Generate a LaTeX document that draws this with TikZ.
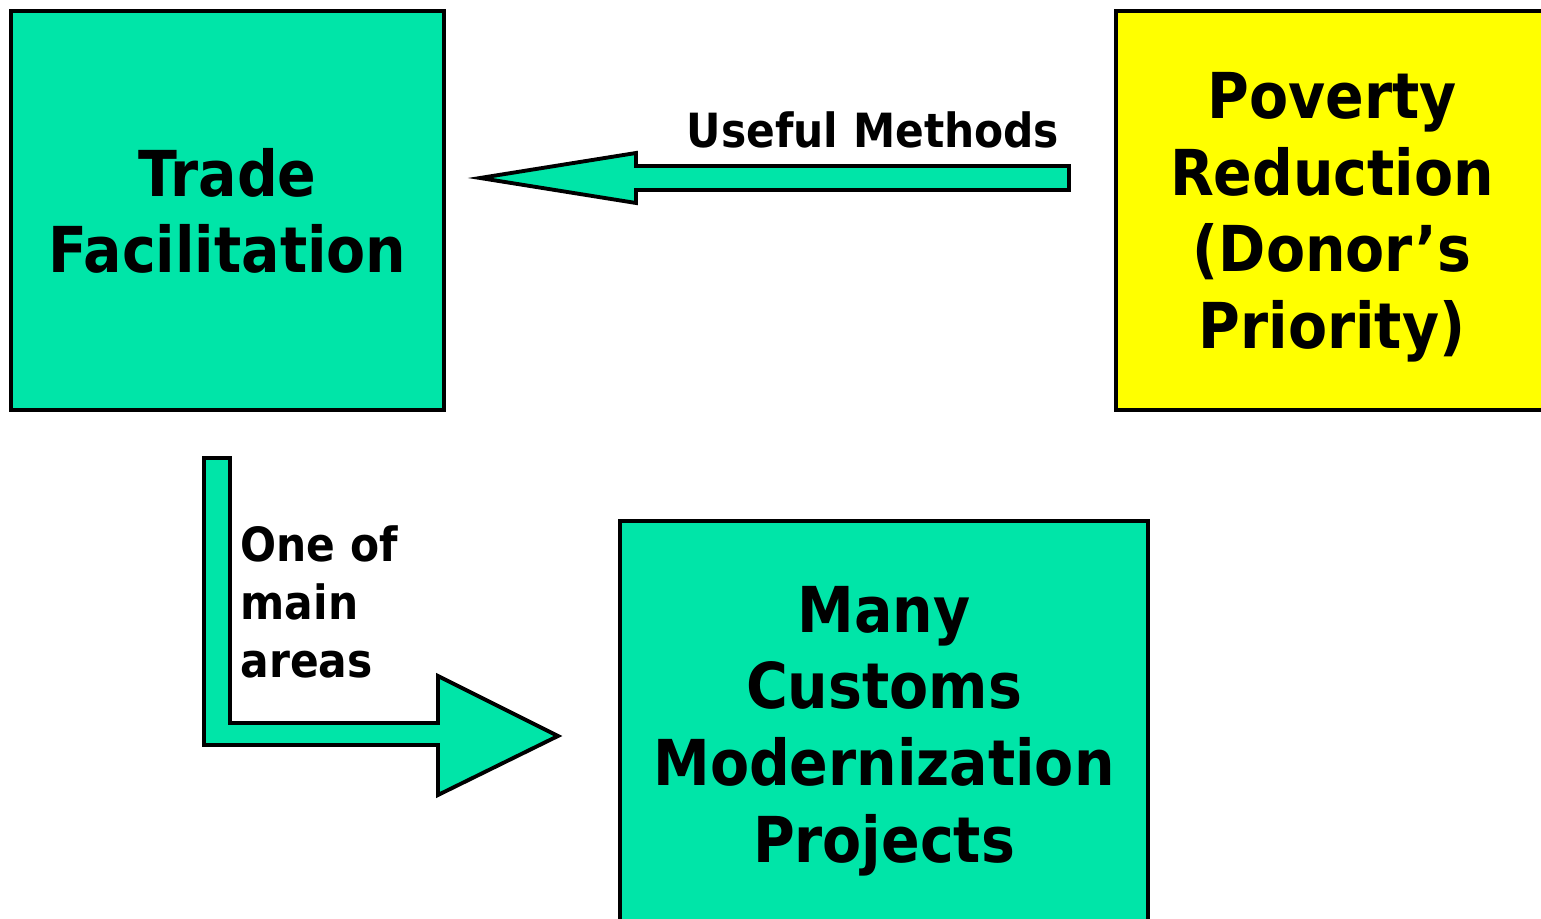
\documentclass[tikz,border=0pt]{standalone}
\usepackage{fontspec}
\setmainfont{DejaVu Sans Condensed}
\usetikzlibrary{positioning}
\definecolor{tfgreen}{RGB}{0,229,168}
\definecolor{tfyellow}{RGB}{255,255,0}
\tikzset{
  bigbox/.style={draw=black, line width=1.2pt, inner sep=0pt, align=center, text depth=0pt,
    font=\fontsize{18}{21.8}\selectfont\bfseries},
  blockarrow/.style={draw=black, line width=1.1pt, fill=tfgreen},
  smalllabel/.style={inner sep=0pt, font=\fontsize{13.4}{16.5}\selectfont\bfseries}
}
\begin{document}
\begin{tikzpicture}[x=0.01cm,y=-0.01cm]
  \useasboundingbox (0,0) rectangle (1541,919);
  \node[bigbox, fill=tfgreen, minimum width=4.33cm, minimum height=3.99cm] (trade) at (227.5,210.5) {Trade\\Facilitation};
  \node[bigbox, fill=tfyellow, minimum width=4.32cm, minimum height=3.99cm] (poverty) at (1332,210.5) {Poverty\\Reduction\\(Donor’s\\Priority)};
  \node[bigbox, fill=tfgreen, minimum width=5.28cm, minimum height=4.06cm] (customs) at (884,724) {Many\\Customs\\Modernization\\Projects};
  % block arrows
  \draw[blockarrow] (1069,166) -- (636,166) -- (636,153) -- (480,178) -- (636,203) -- (636,190) -- (1069,190) -- cycle;
  \node[smalllabel, anchor=base east] (useful) at (1060,148) {Useful Methods};
  \draw[blockarrow] (204,458) -- (230,458) -- (230,723) -- (438,723) -- (438,676) -- (558,736) -- (438,795) -- (438,745) -- (204,745) -- cycle;
  \node[smalllabel, anchor=base west, align=left] (areas) at (240,678) {One of\\main\\areas};
\end{tikzpicture}
\end{document}
